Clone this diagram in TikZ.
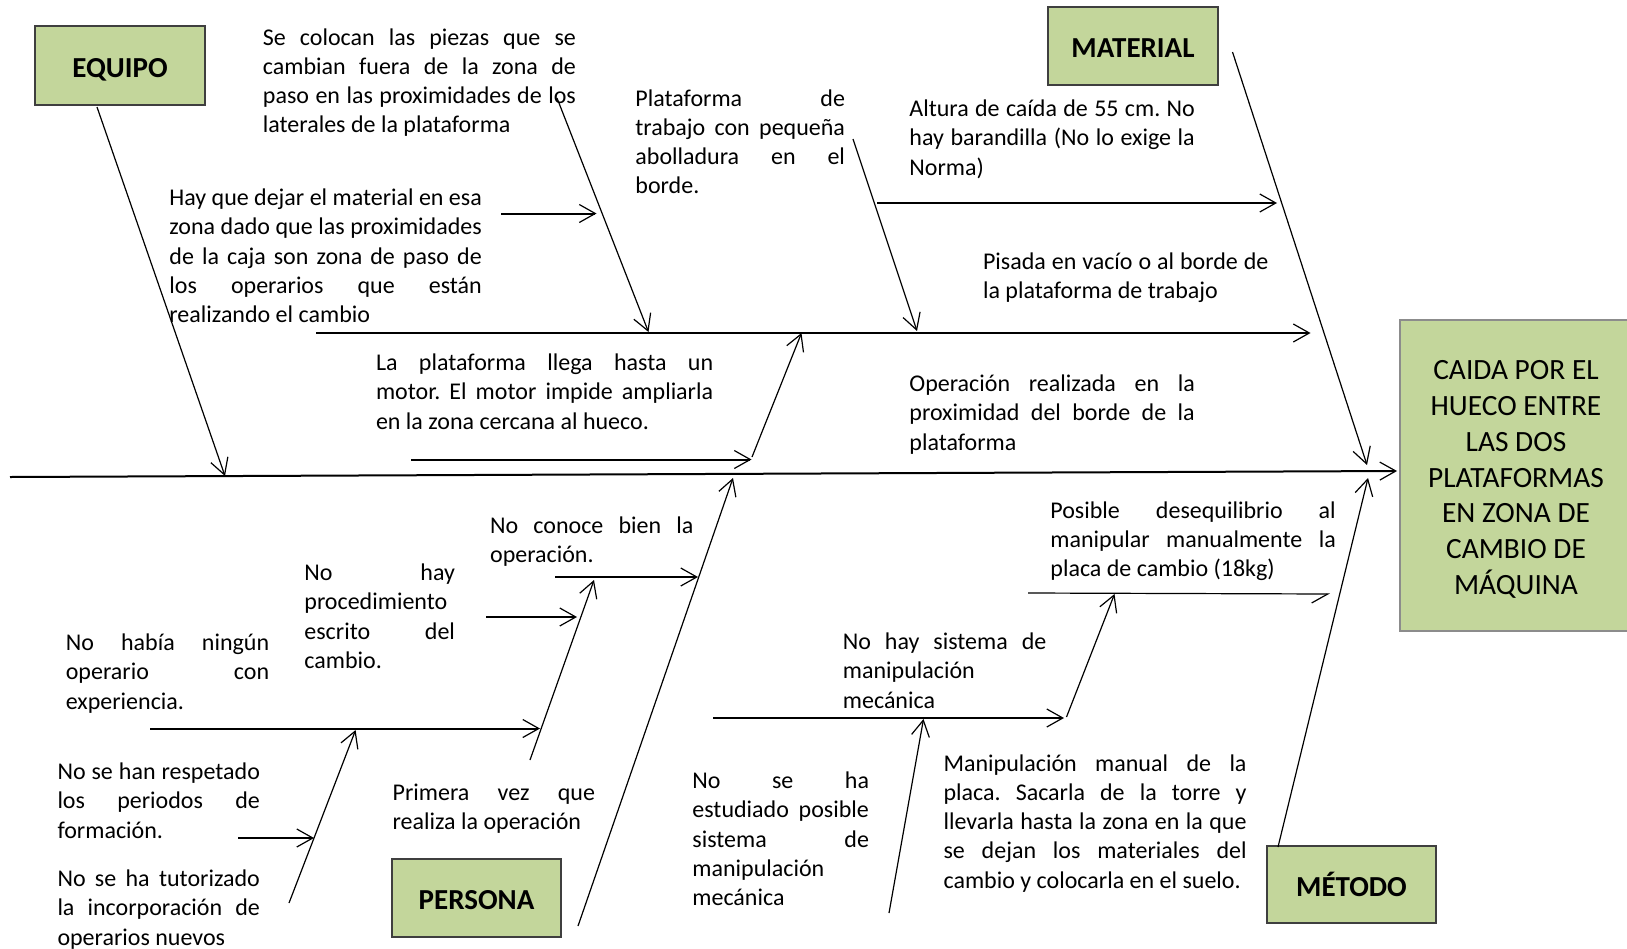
\documentclass[tikz,border=0pt]{standalone}
\usepackage{fontspec}
\setmainfont{Carlito}
\usetikzlibrary{arrows.meta}
\definecolor{boxgreen}{HTML}{C3D69B}
\definecolor{boxline}{HTML}{3F3F3F}
\hyphenpenalty=10000 \exhyphenpenalty=10000
\frenchspacing
\begin{document}
\begin{tikzpicture}[x=0.5pt,y=-0.5pt,
  txt/.style={anchor=base west, inner sep=0pt, text width=#1, align=justify,
              yshift=-1.25pt, font=\frenchspacing\fontsize{12}{14.65}\selectfont},
  catbox/.style={draw=boxline, line width=0.6pt, fill=boxgreen, inner sep=0pt,
              text height=11.5pt, text depth=0pt,
              font=\fontsize{14.5}{17}\selectfont\bfseries},
  tip/.style={-{Straight Barb[length=8pt,width=9pt,line width=0.6pt]}},
  halftip/.style={-{Straight Barb[length=8pt,width=9pt,line width=0.6pt,right]}},
  hline/.style={tip, line width=1pt},
  dline/.style={tip, line width=0.6pt}]
\useasboundingbox (0,0) rectangle (1627,948);
\fill[white] (0,0) rectangle (1627,948);

% category boxes
\node[catbox, minimum width=85pt, minimum height=39.5pt] (equipo) at (120,65.5) {EQUIPO};
\node[catbox, minimum width=85pt, minimum height=39pt] (material) at (1133,46) {MATERIAL};
\node[catbox, minimum width=84.5pt, minimum height=39pt] (persona) at (476.5,898) {PERSONA};
\node[catbox, minimum width=84.5pt, minimum height=38.5pt] (metodo) at (1351.5,884.5) {MÉTODO};
\node[draw=boxline!60, line width=0.6pt, fill=boxgreen, minimum width=116pt, minimum height=155.5pt,
      inner sep=0pt,
      label={[align=center, font=\fontsize{14.7}{17.9}\selectfont, yshift=-2pt]center:CAIDA POR EL\\HUECO ENTRE\\LAS DOS\\PLATAFORMAS\\EN ZONA DE\\CAMBIO DE\\MÁQUINA}]
      (effect) at (1516,475.5) {};

% texts
\node[txt=156.5pt] (t1) at (262.5,42.5) {Se colocan las piezas que se\linebreak cambian fuera de la zona de\linebreak paso en las proximidades de los\linebreak laterales de la plataforma};
\node[txt=156.2pt] (t2) at (169,203) {Hay que dejar el material en esa\linebreak zona dado que las proximidades\linebreak de la caja son zona de paso de\linebreak los operarios que están\linebreak realizando el cambio};
\node[txt=104.8pt] (t3) at (635,103.5) {Plataforma de\linebreak trabajo con pequeña\linebreak abolladura en el\linebreak borde.};
\node[txt=142.7pt] (t4) at (909,114) {Altura de caída de 55 cm. No\linebreak hay barandilla (No lo exige la\linebreak Norma)};
\node[txt=142.7pt] (t5) at (982.6,266.5) {Pisada en vacío o al borde de\linebreak la plataforma de trabajo};
\node[txt=168.6pt] (t6) at (375.6,368) {La plataforma llega hasta un\linebreak motor. El motor impide ampliarla\linebreak en la zona cercana al hueco.};
\node[txt=142.7pt] (t7) at (909,389) {Operación realizada en la\linebreak proximidad del borde de la\linebreak plataforma};
\node[txt=101.7pt] (t8) at (489.7,531) {No conoce bien la\linebreak operación.};
\node[txt=75.3pt] (t9) at (304,578) {No hay\linebreak procedimiento\linebreak escrito del\linebreak cambio.};
\node[txt=101.7pt] (t10) at (65.4,648) {No había ningún\linebreak operario con\linebreak experiencia.};
\node[txt=101.2pt] (t11) at (57.1,777) {No se han respetado\linebreak los periodos de\linebreak formación.};
\node[txt=101.2pt] (t12) at (57.1,884) {No se ha tutorizado\linebreak la incorporación de\linebreak operarios nuevos};
\node[txt=101.2pt] (t13) at (392.2,798) {Primera vez que\linebreak realiza la operación};
\node[txt=142.7pt] (t14) at (1050,515.5) {Posible desequilibrio al\linebreak manipular manualmente la\linebreak placa de cambio (18kg)};
\node[txt=101.7pt] (t15) at (842.5,647) {No hay sistema de\linebreak manipulación\linebreak mecánica};
\node[txt=88.3pt] (t16) at (692,786) {No se ha\linebreak estudiado posible\linebreak sistema de\linebreak manipulación\linebreak mecánica};
\node[txt=151.5pt] (t17) at (943.2,768.5) {Manipulación manual de la\linebreak placa. Sacarla de la torre y\linebreak llevarla hasta la zona en la que\linebreak se dejan los materiales del\linebreak cambio y colocarla en el suelo.};

% coordinates
\coordinate (spS) at (10,477);   \coordinate (spE) at (1397,471);
\coordinate (eqS) at (97,107);   \coordinate (eqE) at (225,476);
\coordinate (a2S) at (557,98);   \coordinate (a2E) at (648.5,332);
\coordinate (a3S) at (501,213.5); \coordinate (a3E) at (596.5,213.5);
\coordinate (a4S) at (316,333);  \coordinate (a4E) at (1310.5,333);
\coordinate (a5S) at (853,139);  \coordinate (a5E) at (917,331);
\coordinate (a6S) at (877,203);  \coordinate (a6E) at (1277,203);
\coordinate (maS) at (1232.5,52); \coordinate (maE) at (1367,465);
\coordinate (a8S) at (411,459.5); \coordinate (a8E) at (751.5,459.5);
\coordinate (a9S) at (752,457);  \coordinate (a9E) at (801.5,333);
\coordinate (peS) at (578,926);  \coordinate (peE) at (733,478);
\coordinate (b1S) at (555,577);  \coordinate (b1E) at (698,577);
\coordinate (b2S) at (486,617);  \coordinate (b2E) at (577,617);
\coordinate (b3S) at (530,760);  \coordinate (b3E) at (594,580);
\coordinate (b4S) at (150,728.5); \coordinate (b4E) at (540,728.5);
\coordinate (b5S) at (238,838);  \coordinate (b5E) at (314,838);
\coordinate (b6S) at (289,903);  \coordinate (b6E) at (355.6,730);
\coordinate (meS) at (1278,847); \coordinate (meE) at (1368,478);
\coordinate (c2S) at (1028,593); \coordinate (c2E) at (1330,594);
\coordinate (c3S) at (1066.5,717); \coordinate (c3E) at (1114.5,594);
\coordinate (c4S) at (713,718);  \coordinate (c4E) at (1064,718);
\coordinate (c5S) at (889,913);  \coordinate (c5E) at (923.5,719);

% connectors
\draw[hline] (spS) -- (spE);
\draw[dline] (eqS) -- (eqE);
\draw[dline] (a2S) -- (a2E);
\draw[hline] (a3S) -- (a3E);
\draw[hline] (a4S) -- (a4E);
\draw[dline] (a5S) -- (a5E);
\draw[hline] (a6S) -- (a6E);
\draw[dline] (maS) -- (maE);
\draw[hline] (a8S) -- (a8E);
\draw[dline] (a9S) -- (a9E);
\draw[dline] (peS) -- (peE);
\draw[hline] (b1S) -- (b1E);
\draw[hline] (b2S) -- (b2E);
\draw[dline] (b3S) -- (b3E);
\draw[hline] (b4S) -- (b4E);
\draw[hline] (b5S) -- (b5E);
\draw[dline] (b6S) -- (b6E);
\draw[dline] (meS) -- (meE);
\draw[halftip, line width=0.6pt] (c2S) -- (c2E);
\draw[dline] (c3S) -- (c3E);
\draw[hline] (c4S) -- (c4E);
\draw[dline] (c5S) -- (c5E);
\end{tikzpicture}
\end{document}
